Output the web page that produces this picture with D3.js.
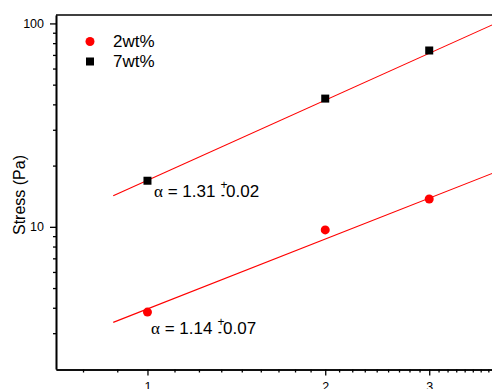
<!DOCTYPE html>
<html>
<head>
<meta charset="utf-8">
<script src="https://cdn.jsdelivr.net/npm/d3@7"></script>
<style>
  body { margin: 0; background: #fff; }
  svg { display: block; font-family: "Liberation Sans", Arial, sans-serif; }
</style>
</head>
<body>
<div id="chart"></div>
<script>
// values
var xValues = [1, 2, 3];
var stress2 = [3.81, 9.66, 13.7];
var stress7 = [16.85, 42.7, 73.6];

// fitted power-law lines (end points)
var fitX = [0.875, 4];
var fit2 = [3.39, 19.2];
var fit7 = [14.2, 103.9];

var seriesNames = ["2wt%", "7wt%"];
var fitLabels = [["1.14", "0.07"], ["1.31", "0.02"]];

var xMajor = [1, 2, 3];
var yMajor = [10, 100];

var width = 492, height = 389;

var svg = d3.select("#chart")
    .append("svg")
    .attr("width", width)
    .attr("height", height);

var x = d3.scaleLog()
    .domain([0.7, 4])
    .range([56, 503]);

var y = d3.scaleLog()
    .domain([2, 110])
    .range([369, 15]);

// minor ticks: x in steps of 1/9 between majors, y the usual 2..9
var xMinor = [];
[0, 1, 2, 3].forEach(function(m) {
    for (var j = 1; j < 9; j++) {
        var v = m + j / 9;
        if (v > 0.7 && v < 4) xMinor.push(v);
    }
});
var yMinor = [];
[1, 10].forEach(function(dec) {
    for (var j = 2; j < 10; j++) {
        var v = dec * j;
        if (v > 2 && v < 110 && v !== 10) yMinor.push(v);
    }
});

// top frame line
svg.append("line")
    .attr("x1", 56).attr("x2", 503)
    .attr("y1", 15).attr("y2", 15)
    .attr("stroke", "#000")
    .attr("stroke-width", 1.6);

// x axis
var xAxisG = svg.append("g")
    .attr("transform", "translate(0,369.5)");
xAxisG.append("g")
    .call(d3.axisBottom(x).tickValues(xMinor).tickSize(3).tickSizeOuter(0).tickFormat(""));
xAxisG.append("g")
    .call(d3.axisBottom(x).tickValues(xMajor).tickSize(6).tickSizeOuter(0).tickPadding(7)
        .tickFormat(d3.format("d")));

// y axis
var yAxisG = svg.append("g")
    .attr("transform", "translate(56,0)");
yAxisG.append("g")
    .call(d3.axisLeft(y).tickValues(yMinor).tickSize(3).tickSizeOuter(0).tickFormat(""));
yAxisG.append("g")
    .call(d3.axisLeft(y).tickValues(yMajor).tickSize(6).tickSizeOuter(0).tickPadding(6)
        .tickFormat(d3.format("d")));

svg.selectAll(".domain").attr("stroke", "#000").attr("stroke-width", 1.6);
svg.selectAll(".tick line").attr("stroke", "#000").attr("stroke-width", 1.3);
svg.selectAll(".tick text")
    .attr("fill", "#000")
    .style("font-size", "12.5px")
    .style("font-family", "'Liberation Sans', Arial, sans-serif");

svg.append("text")
    .attr("transform", "translate(25,195) rotate(-90)")
    .attr("text-anchor", "middle")
    .style("font-size", "16px")
    .text("Stress (Pa)");

// fit lines
var line = d3.line()
    .x(function(d) { return x(d[0]); })
    .y(function(d) { return y(d[1]); });

[fit2, fit7].forEach(function(f) {
    svg.append("path")
        .datum(fitX.map(function(v, i) { return [v, f[i]]; }))
        .attr("fill", "none")
        .attr("stroke", "#ff0000")
        .attr("stroke-width", 1.1)
        .attr("d", line);
});

// points
svg.selectAll("circle.p2")
    .data(xValues.map(function(v, i) { return [v, stress2[i]]; }))
    .enter().append("circle")
    .attr("class", "p2")
    .attr("cx", function(d) { return x(d[0]); })
    .attr("cy", function(d) { return y(d[1]); })
    .attr("r", 4.5)
    .attr("fill", "#ff0000");

svg.selectAll("rect.p7")
    .data(xValues.map(function(v, i) { return [v, stress7[i]]; }))
    .enter().append("rect")
    .attr("class", "p7")
    .attr("x", function(d) { return x(d[0]) - 4; })
    .attr("y", function(d) { return y(d[1]) - 4; })
    .attr("width", 8)
    .attr("height", 8)
    .attr("fill", "#000");

// legend
svg.append("circle")
    .attr("cx", 90).attr("cy", 41.5)
    .attr("r", 4.5)
    .attr("fill", "#ff0000");
svg.append("rect")
    .attr("x", 86).attr("y", 57.5)
    .attr("width", 8).attr("height", 8)
    .attr("fill", "#000");
svg.append("text")
    .attr("x", 113).attr("y", 47)
    .style("font-size", "17px")
    .text(seriesNames[0]);
svg.append("text")
    .attr("x", 113).attr("y", 67)
    .style("font-size", "17px")
    .text(seriesNames[1]);

// alpha annotations
function annotate(ax, ay, vals) {
    var t = svg.append("text")
        .attr("x", ax).attr("y", ay)
        .style("font-size", "17px")
        .style("white-space", "pre");
    t.append("tspan")
        .style("font-family", "'Liberation Serif', 'Times New Roman', serif")
        .text("\u03b1");
    t.append("tspan").text("\u00a0=\u00a0" + vals[0] + "\u00a0");
    var len = t.node().getComputedTextLength();
    svg.append("text")
        .attr("x", ax + len + 0.5).attr("y", ay - 8)
        .style("font-size", "12px")
        .text("+");
    svg.append("text")
        .attr("x", ax + len + 1).attr("y", ay + 0.5)
        .style("font-size", "11px")
        .style("font-weight", "bold")
        .text("-");
    svg.append("text")
        .attr("x", ax + len + 6).attr("y", ay)
        .style("font-size", "17px")
        .text(vals[1]);
}
annotate(154, 197, fitLabels[1]);
annotate(151, 334, fitLabels[0]);
</script>
</body>
</html>
